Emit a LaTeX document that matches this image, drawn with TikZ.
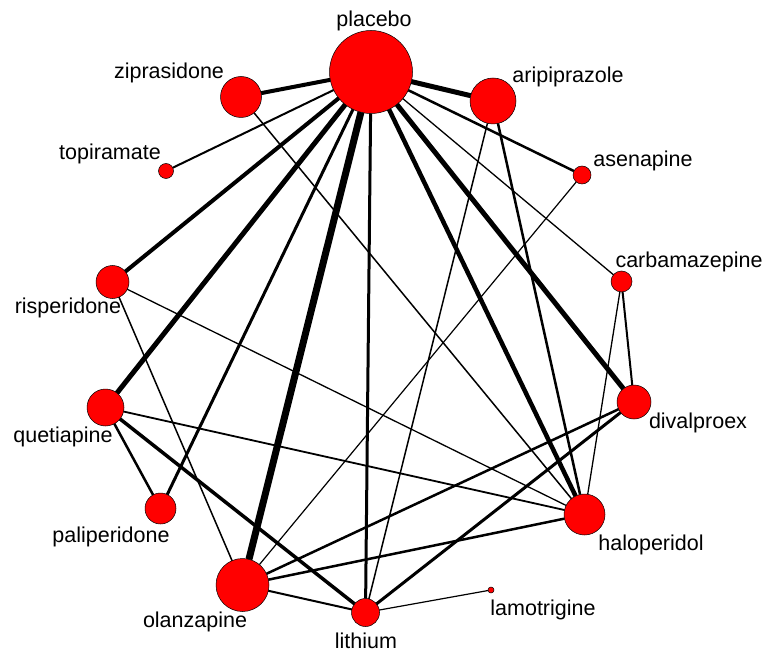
\documentclass[tikz,border=0pt]{standalone}
\usepackage{fontspec}
\setmainfont{Liberation Sans}
\tikzset{
  drug/.style={circle,draw=black,line width=0.5pt,fill=red,inner sep=0pt,outer sep=0pt},
  drugname/.style={anchor=base,inner sep=0pt,font=\fontsize{21.5}{26}\selectfont}
}
\begin{document}
\begin{tikzpicture}[x=1pt,y=-1pt]
\useasboundingbox (0,0) rectangle (765,652);
\node[drug,minimum size=83pt] (placebo) at (371,72) {};
\node[drug,minimum size=46pt] (aripiprazole) at (493,101) {};
\node[drug,minimum size=18pt] (asenapine) at (582,175) {};
\node[drug,minimum size=21pt] (carbamazepine) at (621.5,281.5) {};
\node[drug,minimum size=34pt] (divalproex) at (634,402) {};
\node[drug,minimum size=41pt] (haloperidol) at (584.5,514.5) {};
\node[drug,minimum size=6pt] (lamotrigine) at (491,590) {};
\node[drug,minimum size=28pt] (lithium) at (365.5,612.5) {};
\node[drug,minimum size=53pt] (olanzapine) at (242.5,585) {};
\node[drug,minimum size=31pt] (paliperidone) at (160.5,508.5) {};
\node[drug,minimum size=37pt] (quetiapine) at (105.5,407.5) {};
\node[drug,minimum size=33pt] (risperidone) at (112.5,282) {};
\node[drug,minimum size=15pt] (topiramate) at (166,171) {};
\node[drug,minimum size=41pt] (ziprasidone) at (241,97) {};
\node[drugname] (t-placebo) at (374,27) {placebo};
\node[drugname] (t-aripiprazole) at (568,83) {aripiprazole};
\node[drugname] (t-asenapine) at (643,167) {asenapine};
\node[drugname] (t-carbamazepine) at (689,267) {carbamazepine};
\node[drugname] (t-divalproex) at (698,428) {divalproex};
\node[drugname] (t-haloperidol) at (651,550) {haloperidol};
\node[drugname] (t-lamotrigine) at (543,615) {lamotrigine};
\node[drugname] (t-lithium) at (366,648) {lithium};
\node[drugname] (t-olanzapine) at (195,627) {olanzapine};
\node[drugname] (t-paliperidone) at (111,542) {paliperidone};
\node[drugname] (t-quetiapine) at (63,442) {quetiapine};
\node[drugname] (t-risperidone) at (68,313) {risperidone};
\node[drugname] (t-topiramate) at (110,160) {topiramate};
\node[drugname] (t-ziprasidone) at (169,79) {ziprasidone};
\draw[line width=7pt] (placebo) -- (olanzapine);
\draw[line width=5pt] (placebo) -- (aripiprazole);
\draw[line width=5pt] (placebo) -- (quetiapine);
\draw[line width=5pt] (placebo) -- (divalproex);
\draw[line width=4pt] (placebo) -- (risperidone);
\draw[line width=4pt] (placebo) -- (ziprasidone);
\draw[line width=4.5pt] (placebo) -- (haloperidol);
\draw[line width=3pt] (placebo) -- (lithium);
\draw[line width=3pt] (placebo) -- (paliperidone);
\draw[line width=2.5pt] (placebo) -- (asenapine);
\draw[line width=2pt] (placebo) -- (topiramate);
\draw[line width=1.3pt] (placebo) -- (carbamazepine);
\draw[line width=3.5pt] (quetiapine) -- (lithium);
\draw[line width=2.5pt] (quetiapine) -- (paliperidone);
\draw[line width=1.8pt] (quetiapine) -- (haloperidol);
\draw[line width=3pt] (divalproex) -- (lithium);
\draw[line width=2.5pt] (divalproex) -- (olanzapine);
\draw[line width=2pt] (carbamazepine) -- (divalproex);
\draw[line width=1.3pt] (carbamazepine) -- (haloperidol);
\draw[line width=2.5pt] (olanzapine) -- (haloperidol);
\draw[line width=2pt] (olanzapine) -- (lithium);
\draw[line width=2.5pt] (aripiprazole) -- (haloperidol);
\draw[line width=1.5pt] (aripiprazole) -- (lithium);
\draw[line width=1.5pt] (ziprasidone) -- (haloperidol);
\draw[line width=1.3pt] (risperidone) -- (haloperidol);
\draw[line width=1.5pt] (risperidone) -- (olanzapine);
\draw[line width=1.2pt] (asenapine) -- (olanzapine);
\draw[line width=1.2pt] (lithium) -- (lamotrigine);
\end{tikzpicture}
\end{document}
